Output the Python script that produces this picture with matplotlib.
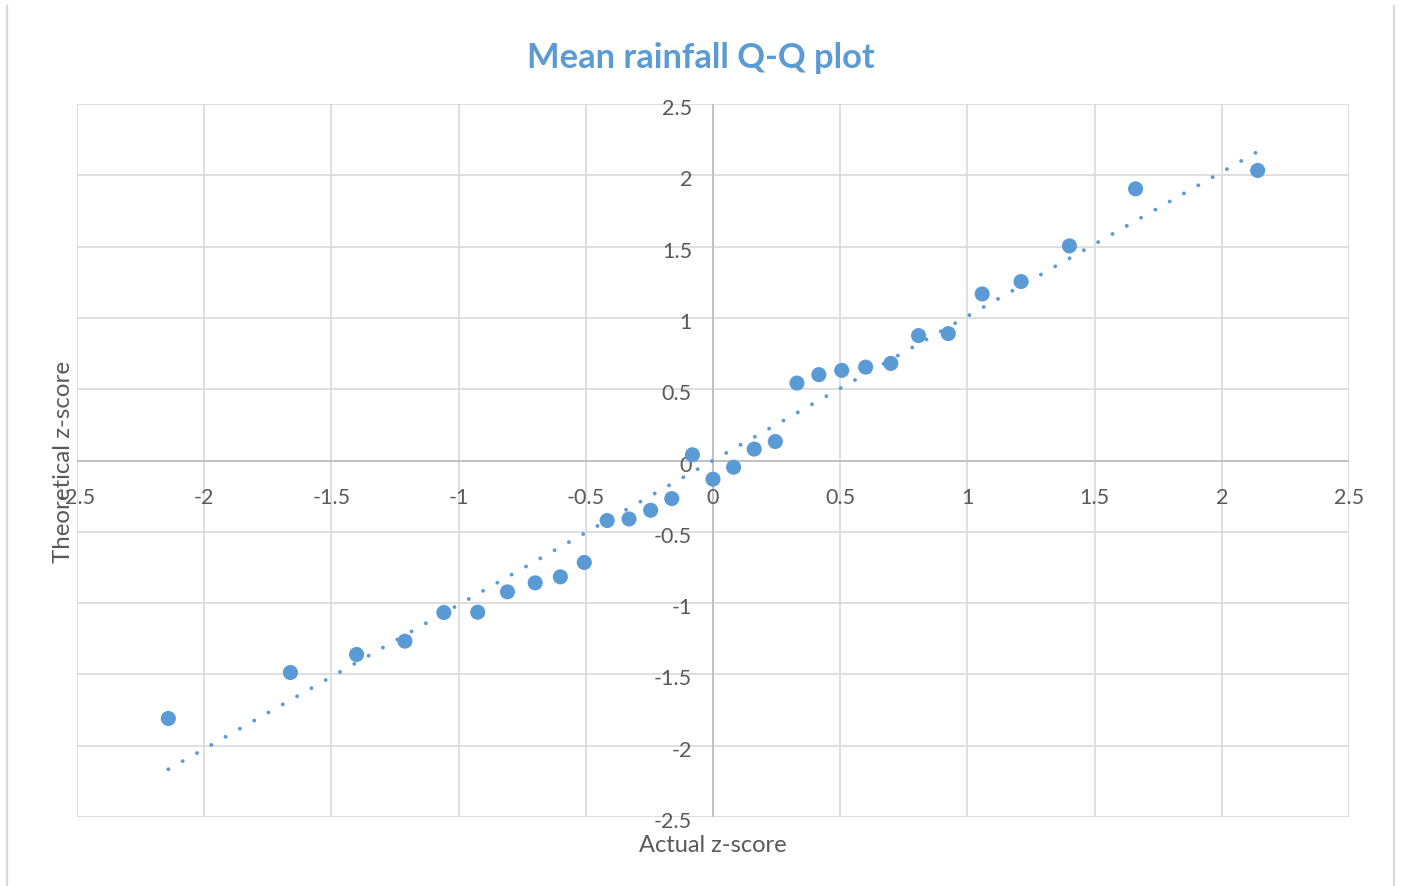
import numpy as np
import matplotlib
matplotlib.use("Agg")
import matplotlib.pyplot as plt
import matplotlib.transforms as mtransforms
from matplotlib.lines import Line2D

# Normal-score pairs for the mean rainfall series
actual_z = [-2.141, -1.661, -1.401, -1.211, -1.058, -0.925, -0.808, -0.699,
            -0.600, -0.506, -0.416, -0.330, -0.245, -0.162, -0.081, 0.000,
            0.081, 0.162, 0.245, 0.330, 0.416, 0.506, 0.600, 0.699,
            0.808, 0.925, 1.058, 1.211, 1.401, 1.661, 2.141]
theoretical_z = [-1.809, -1.487, -1.360, -1.267, -1.066, -1.064, -0.921, -0.858,
                 -0.816, -0.715, -0.421, -0.410, -0.349, -0.267, 0.040, -0.131,
                 -0.047, 0.080, 0.133, 0.543, 0.602, 0.632, 0.655, 0.681,
                 0.876, 0.890, 1.168, 1.255, 1.505, 1.905, 2.034]

tick_values = [-2.5, -2, -1.5, -1, -0.5, 0, 0.5, 1, 1.5, 2, 2.5]
tick_labels = ["-2.5", "-2", "-1.5", "-1", "-0.5", "0", "0.5", "1", "1.5", "2", "2.5"]

title = "Mean rainfall Q-Q plot"
x_title = "Actual z-score"
y_title = "Theoretical z-score"

BLUE = "#5B9BD5"
GRID = "#D9D9D9"
AXIS = "#BFBFBF"
TEXT = "#595959"
FONT = "Lato"
DPI = 100

W, H = 1401, 886
fig = plt.figure(figsize=(W / DPI, H / DPI), dpi=DPI)
fig.patch.set_facecolor("white")

# chart-area border (left and right edges)
for xp in (7.5, 1394):
    fig.add_artist(Line2D([xp / W, xp / W], [0, 1 - 6 / H], transform=fig.transFigure,
                          color=GRID, lw=1.6))

left, right, top, bottom = 77, 1349, 104, 817
ax = fig.add_axes([left / W, 1 - bottom / H, (right - left) / W, (bottom - top) / H])
ax.set_xlim(-2.5, 2.5)
ax.set_ylim(-2.5, 2.5)
for s in ax.spines.values():
    s.set_visible(False)
ax.set_xticks(tick_values)
ax.set_yticks(tick_values)
ax.tick_params(length=0, labelbottom=False, labelleft=False)
ax.grid(True, color=GRID, lw=1.2, zorder=0)
ax.set_axisbelow(True)

# axes crossing at zero
ax.axhline(0, color=AXIS, lw=1.3, zorder=1)
ax.axvline(0, color=AXIS, lw=1.3, zorder=1)

# tick labels placed along the zero axes
ylab_tr = mtransforms.offset_copy(ax.transData, fig=fig, x=-21, y=-5, units="dots")
xlab_tr = mtransforms.offset_copy(ax.transData, fig=fig, x=0, y=-37, units="dots")
for v, lab in zip(tick_values, tick_labels):
    ax.text(0, v, lab, transform=ylab_tr, ha="right", va="center",
            fontsize=15.5, color=TEXT, family=FONT, zorder=2, clip_on=False)
    ax.text(v, 0, lab, transform=xlab_tr, ha="center", va="center",
            fontsize=15.5, color=TEXT, family=FONT, zorder=2, clip_on=False)

# data points
ax.scatter(actual_z, theoretical_z, s=118, color=BLUE, edgecolors="none", zorder=3,
           clip_on=False)

# linear trendline over the data range, round-dotted so that a dot sits at each end
slope, intercept = np.polyfit(actual_z, theoretical_z, 1)
xs = np.array([min(actual_z), max(actual_z)])
ys = slope * xs + intercept
trend_lw = 2.8
p0, p1 = ax.transData.transform(np.column_stack([xs, ys]))
length_px = float(np.hypot(*(p1 - p0)))
n_gaps = max(1, round(length_px / 16.4))
period = 0.998 * (length_px / n_gaps) / (trend_lw * DPI / 72)
ax.plot(xs, ys, color=BLUE, lw=trend_lw, linestyle=(0, (0.01, period - 0.01)),
        dash_capstyle="round", zorder=4, clip_on=False)

fig.text(701 / W, 1 - 58 / H, title, ha="center", va="center", fontsize=24.8,
         fontweight="bold", color=BLUE, family=FONT)
fig.text(713 / W, 1 - 845 / H, x_title, ha="center", va="center", fontsize=17,
         color=TEXT, family=FONT)
fig.text(63 / W, 1 - 462 / H, y_title, ha="center", va="center", fontsize=17.3,
         color=TEXT, family=FONT, rotation=90)

fig.savefig("out.png", dpi=DPI, facecolor="white")
